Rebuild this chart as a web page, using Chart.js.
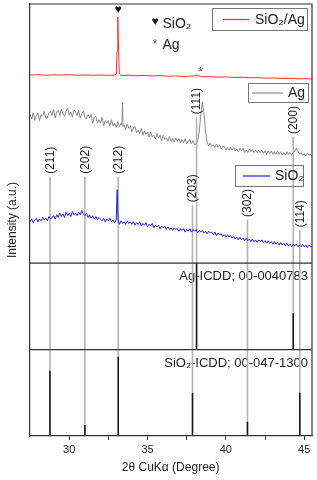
<!DOCTYPE html>
<html>
<head>
<meta charset="utf-8">
<script src="https://cdn.jsdelivr.net/npm/chart.js@4.4.1/dist/chart.umd.min.js"></script>
<style>
html,body{margin:0;padding:0;background:#fff;}
canvas{display:block;}
</style>
</head>
<body>
<canvas id="c" width="317" height="480" style="width:317px;height:480px"></canvas>
<script>
// ---------- DATA ----------
// x axis (2θ, degree)
const xMin = 27.45, xMax = 45.5;
const xTicks = [30, 32.5, 35, 37.5, 40, 42.5, 45];

// Spectra: [2θ, intensity (a.u., stacked offsets)]
const seriesNames = ['SiO₂/Ag', 'Ag', 'SiO₂'];
const sio2AgSpectrum = [
  [27.5,4.178],[28.0,4.182],[28.5,4.176],[29.0,4.180],[29.5,4.177],[30.0,4.181],[30.5,4.176],[31.0,4.179],
  [31.5,4.175],[32.0,4.178],[32.5,4.174],[32.9,4.177],[33.0,4.19],[33.05,4.45],[33.1,4.85],[33.15,4.45],
  [33.2,4.19],[33.3,4.172],[33.8,4.175],[34.3,4.170],[34.8,4.173],[35.3,4.168],[35.8,4.170],[36.3,4.165],
  [36.8,4.167],[37.3,4.162],[37.8,4.164],[38.0,4.168],[38.15,4.178],[38.3,4.166],[38.6,4.158],[39.1,4.158],
  [39.6,4.154],[40.1,4.156],[40.6,4.150],[41.1,4.152],[41.6,4.146],[42.1,4.147],[42.6,4.142],[43.1,4.143],
  [43.6,4.138],[44.1,4.140],[44.6,4.134],[45.1,4.135],[45.5,4.132]
];
const agSpectrum = [
  [27.5,3.72],[27.6,3.67],[27.7,3.74],[27.8,3.65],[27.9,3.71],[28.0,3.74],[28.1,3.65],[28.2,3.72],
  [28.3,3.70],[28.4,3.76],[28.5,3.68],[28.6,3.68],[28.7,3.74],[28.8,3.76],[28.9,3.71],[29.0,3.78],
  [29.1,3.68],[29.2,3.75],[29.3,3.77],[29.4,3.71],[29.5,3.78],[29.6,3.73],[29.7,3.70],[29.8,3.76],
  [29.9,3.79],[30.0,3.71],[30.1,3.75],[30.2,3.69],[30.3,3.77],[30.4,3.76],[30.5,3.71],[30.6,3.77],
  [30.7,3.68],[30.8,3.73],[30.9,3.76],[31.0,3.69],[31.1,3.67],[31.2,3.72],[31.3,3.68],[31.4,3.72],
  [31.5,3.62],[31.6,3.69],[31.7,3.70],[31.8,3.62],[31.9,3.66],[32.0,3.62],[32.1,3.69],[32.2,3.59],
  [32.3,3.65],[32.4,3.62],[32.5,3.65],[32.6,3.59],[32.7,3.66],[32.8,3.59],[32.9,3.62],[33.0,3.57],
  [33.1,3.64],[33.2,3.58],[33.3,3.62],[33.36,3.60],[33.4,3.86],[33.44,3.58],[33.5,3.60],[33.6,3.55],
  [33.7,3.61],[33.8,3.56],[33.9,3.59],[34.0,3.52],[34.1,3.57],[34.2,3.58],[34.3,3.51],[34.4,3.54],
  [34.5,3.50],[34.6,3.56],[34.7,3.48],[34.8,3.53],[34.9,3.49],[35.0,3.52],[35.1,3.46],[35.2,3.52],
  [35.3,3.46],[35.4,3.48],[35.5,3.44],[35.6,3.50],[35.7,3.45],[35.8,3.48],[35.9,3.42],[36.0,3.48],
  [36.1,3.43],[36.2,3.45],[36.3,3.41],[36.4,3.47],[36.5,3.41],[36.6,3.45],[36.7,3.40],[36.8,3.45],
  [36.9,3.41],[37.0,3.44],[37.1,3.39],[37.2,3.43],[37.3,3.39],[37.4,3.44],[37.5,3.38],[37.6,3.41],
  [37.7,3.43],[37.8,3.38],[37.9,3.42],[38.0,3.37],[38.1,3.38],[38.2,3.42],[38.3,3.52],[38.4,3.72],
  [38.5,3.87],[38.6,3.74],[38.7,3.52],[38.8,3.41],[38.9,3.36],[39.0,3.39],[39.1,3.35],[39.2,3.37],
  [39.3,3.34],[39.4,3.38],[39.5,3.34],[39.6,3.37],[39.7,3.32],[39.8,3.35],[39.9,3.35],[40.0,3.31],
  [40.1,3.34],[40.2,3.31],[40.3,3.34],[40.4,3.31],[40.5,3.34],[40.6,3.30],[40.7,3.32],[40.8,3.29],
  [40.9,3.33],[41.0,3.30],[41.1,3.33],[41.2,3.28],[41.3,3.31],[41.4,3.28],[41.5,3.32],[41.6,3.29],
  [41.7,3.32],[41.8,3.28],[41.9,3.31],[42.0,3.28],[42.1,3.31],[42.2,3.28],[42.3,3.31],[42.4,3.27],
  [42.5,3.30],[42.6,3.26],[42.7,3.30],[42.8,3.27],[42.9,3.30],[43.0,3.26],[43.1,3.29],[43.2,3.26],
  [43.3,3.30],[43.4,3.26],[43.5,3.29],[43.6,3.25],[43.7,3.28],[43.8,3.25],[43.9,3.29],[44.0,3.26],
  [44.1,3.28],[44.2,3.25],[44.3,3.28],[44.4,3.30],[44.5,3.33],[44.6,3.30],[44.7,3.26],[44.8,3.28],
  [44.9,3.25],[45.0,3.27],[45.1,3.24],[45.2,3.27],[45.3,3.25],[45.4,3.26],[45.5,3.24]
];
const sio2Spectrum = [
  [27.5,2.48],[27.6,2.51],[27.7,2.47],[27.8,2.50],[27.9,2.52],[28.0,2.48],[28.1,2.51],[28.2,2.49],
  [28.3,2.53],[28.4,2.50],[28.5,2.52],[28.6,2.49],[28.7,2.54],[28.8,2.51],[28.9,2.53],[29.0,2.55],
  [29.1,2.51],[29.2,2.56],[29.3,2.53],[29.4,2.58],[29.5,2.54],[29.6,2.57],[29.7,2.53],[29.8,2.59],
  [29.9,2.55],[30.0,2.58],[30.1,2.54],[30.2,2.60],[30.3,2.56],[30.4,2.58],[30.5,2.55],[30.6,2.59],
  [30.7,2.56],[30.8,2.61],[30.9,2.57],[31.0,2.55],[31.1,2.58],[31.2,2.53],[31.3,2.56],[31.4,2.52],
  [31.5,2.55],[31.6,2.51],[31.7,2.54],[31.8,2.50],[31.9,2.53],[32.0,2.51],[32.1,2.49],[32.2,2.52],
  [32.3,2.48],[32.4,2.51],[32.5,2.49],[32.6,2.52],[32.7,2.48],[32.8,2.50],[32.9,2.47],[33.0,2.50],
  [33.06,2.85],[33.12,2.50],[33.2,2.45],[33.3,2.49],[33.4,2.46],[33.5,2.48],[33.6,2.45],[33.7,2.49],
  [33.8,2.46],[33.9,2.48],[34.0,2.45],[34.1,2.48],[34.2,2.44],[34.3,2.47],[34.4,2.45],[34.5,2.48],
  [34.6,2.43],[34.7,2.46],[34.8,2.44],[34.9,2.47],[35.0,2.42],[35.1,2.45],[35.2,2.43],[35.3,2.46],
  [35.4,2.41],[35.5,2.44],[35.6,2.42],[35.7,2.44],[35.8,2.40],[35.9,2.43],[36.0,2.41],[36.1,2.43],
  [36.2,2.39],[36.3,2.42],[36.4,2.39],[36.5,2.41],[36.6,2.38],[36.7,2.41],[36.8,2.39],[36.9,2.40],
  [37.0,2.37],[37.1,2.40],[37.2,2.38],[37.3,2.40],[37.4,2.36],[37.5,2.39],[37.6,2.37],[37.7,2.40],
  [37.8,2.36],[37.9,2.39],[38.0,2.37],[38.1,2.39],[38.2,2.35],[38.3,2.38],[38.4,2.36],[38.5,2.38],
  [38.6,2.35],[38.7,2.37],[38.8,2.34],[38.9,2.37],[39.0,2.35],[39.1,2.36],[39.2,2.33],[39.3,2.36],
  [39.4,2.32],[39.5,2.35],[39.6,2.33],[39.7,2.34],[39.8,2.31],[39.9,2.33],[40.0,2.30],[40.1,2.33],
  [40.2,2.30],[40.3,2.32],[40.4,2.29],[40.5,2.31],[40.6,2.28],[40.7,2.30],[40.8,2.27],[40.9,2.30],
  [41.0,2.27],[41.1,2.29],[41.2,2.26],[41.3,2.29],[41.4,2.26],[41.5,2.28],[41.6,2.25],[41.7,2.28],
  [41.8,2.25],[41.9,2.27],[42.0,2.24],[42.1,2.27],[42.2,2.25],[42.3,2.27],[42.4,2.24],[42.5,2.26],
  [42.6,2.23],[42.7,2.26],[42.8,2.23],[42.9,2.25],[43.0,2.22],[43.1,2.25],[43.2,2.22],[43.3,2.24],
  [43.4,2.21],[43.5,2.24],[43.6,2.21],[43.7,2.23],[43.8,2.20],[43.9,2.23],[44.0,2.20],[44.1,2.22],
  [44.2,2.19],[44.3,2.22],[44.4,2.20],[44.5,2.22],[44.6,2.19],[44.7,2.21],[44.8,2.19],[44.9,2.22],
  [45.0,2.19],[45.1,2.21],[45.2,2.18],[45.3,2.21],[45.4,2.19],[45.5,2.20]
];

// Reference patterns
const sio2Pos  = [28.77, 31.0, 33.13, 37.87, 41.38, 44.72];
const sio2Hkl  = ['(211)', '(202)', '(212)', '(203)', '(302)', '(114)'];
const sio2Rel  = [0.756, 0.127, 0.918, 0.50, 0.166, 0.50];
const sio2Top  = [3.0, 3.0, 3.0, 2.67, 2.5, 2.38];   // where the guide line starts
const agPos    = [38.13, 44.3];
const agHkl    = ['(111)', '(200)'];
const agRel    = [1.0, 0.42];
const agTop    = [3.69, 3.46];
const panelBase = { sio2: 0, ag: 1, spectra: 2 };
const panelTexts = ['Ag-ICDD; 00-0040783', 'SiO₂-ICDD; 00-047-1300'];
const markers = [{ t: '♥', x: 33.12, y: 4.93 }, { t: '*', x: 38.39, y: 4.24 }];

// ---------- BUILD ----------
const FONT = '"Liberation Sans", Arial, Helvetica, sans-serif';
Chart.defaults.font.family = FONT;
Chart.defaults.color = '#222';

const toXY = arr => arr.map(p => ({ x: p[0], y: p[1] }));
function sticks(pos, base, rel) {
  const out = [];
  pos.forEach((p, i) => { out.push({ x: p, y: base }, { x: p, y: base + rel[i] }, { x: p, y: null }); });
  return out;
}
function guides() {
  const out = [];
  sio2Pos.forEach((p, i) => out.push({ x: p, y: sio2Top[i] }, { x: p, y: panelBase.sio2 }, { x: p, y: null }));
  agPos.forEach((p, i) => out.push({ x: p, y: agTop[i] }, { x: p, y: panelBase.ag }, { x: p, y: null }));
  return out;
}
const dividers = [{ x: xMin, y: 1 }, { x: xMax, y: 1 }, { x: xMax, y: null }, { x: xMin, y: 2 }, { x: xMax, y: 2 }];

const colors = ['#ff3030', '#8a8a8a', '#1f1fe6'];
const base = { pointRadius: 0, borderWidth: 1, tension: 0, fill: false, spanGaps: false };

const overlay = {
  id: 'overlay',
  beforeDatasetsDraw(chart) {
    const { ctx, chartArea, scales: { x, y } } = chart;
    ctx.save();
    ctx.fillStyle = '#222';
    ctx.font = '13px ' + FONT;
    ctx.textAlign = 'right';
    ctx.textBaseline = 'middle';
    ctx.fillText(panelTexts[0], chartArea.right - 4, y.getPixelForValue(1.85));
    ctx.fillText(panelTexts[1], chartArea.right - 4, y.getPixelForValue(0.845));
    ctx.restore();
  },
  afterDatasetsDraw(chart) {
    const { ctx, chartArea, scales: { x, y } } = chart;
    ctx.save();
    ctx.fillStyle = '#222';
    ctx.font = '12px ' + FONT;
    ctx.textAlign = 'left';
    ctx.textBaseline = 'middle';
    const lab = (p, top, t) => {
      ctx.save();
      ctx.translate(x.getPixelForValue(p) + 0.5, y.getPixelForValue(top) - 3);
      ctx.rotate(-Math.PI / 2);
      ctx.fillText(t, 0, 0);
      ctx.restore();
    };
    sio2Pos.forEach((p, i) => lab(p, sio2Top[i], sio2Hkl[i]));
    agPos.forEach((p, i) => lab(p, agTop[i], agHkl[i]));

    // peak markers
    ctx.textAlign = 'center';
    ctx.font = '12px ' + FONT;
    ctx.fillStyle = '#111';
    ctx.fillText(markers[0].t, x.getPixelForValue(markers[0].x), y.getPixelForValue(markers[0].y));
    ctx.fillStyle = '#555';
    ctx.fillText(markers[1].t, x.getPixelForValue(markers[1].x), y.getPixelForValue(markers[1].y) + 3);

    // symbol legend
    ctx.textAlign = 'center';
    ctx.fillStyle = '#111';
    ctx.fillText('♥', 155, 22);
    ctx.fillStyle = '#555';
    ctx.fillText('*', 155, 45);
    ctx.textAlign = 'left';
    ctx.fillStyle = '#222';
    ctx.font = '14px ' + FONT;
    ctx.fillText('SiO₂', 162.5, 24.5);
    ctx.fillText('Ag', 162.5, 45);

    // series legend boxes
    const boxes = [
      { x: 212, y: 8, w: 95, h: 22, l1: 223, l2: 249, tx: 255 },
      { x: 248, y: 83, w: 60, h: 19, l1: 252, l2: 283, tx: 288 },
      { x: 235, y: 165, w: 68, h: 21, l1: 243, l2: 270, tx: 275 }
    ];
    boxes.forEach((b, i) => {
      ctx.strokeStyle = '#777';
      ctx.lineWidth = 1;
      ctx.strokeRect(b.x + 0.5, b.y + 0.5, b.w, b.h);
      const cy = b.y + b.h / 2 + 0.5;
      ctx.beginPath();
      ctx.strokeStyle = chart.data.datasets[i].borderColor;
      ctx.lineWidth = 1.2;
      ctx.moveTo(b.l1, cy); ctx.lineTo(b.l2, cy);
      ctx.stroke();
      ctx.fillStyle = '#222';
      ctx.fillText(chart.data.datasets[i].label, b.tx, cy + 0.5);
    });
    ctx.restore();
  },
  afterDraw(chart) {
    const { ctx, chartArea } = chart;
    ctx.save();
    ctx.strokeStyle = '#333';
    ctx.lineWidth = 1.2;
    ctx.beginPath();
    ctx.moveTo(chartArea.left, chartArea.top);
    ctx.lineTo(chartArea.right, chartArea.top);
    ctx.lineTo(chartArea.right, chartArea.bottom);
    ctx.stroke();
    ctx.restore();
  }
};

new Chart(document.getElementById('c'), {
  type: 'line',
  data: {
    datasets: [
      { ...base, label: seriesNames[0], data: toXY(sio2AgSpectrum), borderColor: colors[0], order: 1 },
      { ...base, label: seriesNames[1], data: toXY(agSpectrum), borderColor: colors[1], order: 2 },
      { ...base, label: seriesNames[2], data: toXY(sio2Spectrum), borderColor: colors[2], order: 3 },
      { ...base, label: 'dividers', data: dividers, borderColor: '#333', borderWidth: 1.2, order: 4 },
      { ...base, label: 'Ag ICDD', data: sticks(agPos, panelBase.ag, agRel), borderColor: '#111', borderWidth: 1.5, order: 5 },
      { ...base, label: 'SiO2 ICDD', data: sticks(sio2Pos, panelBase.sio2, sio2Rel), borderColor: '#111', borderWidth: 1.5, order: 6 },
      { ...base, label: 'guides', data: guides(), borderColor: '#b4b4b4', borderWidth: 1.6, order: 10 }
    ]
  },
  options: {
    responsive: false,
    animation: false,
    devicePixelRatio: 1,
    layout: { padding: { top: 4, right: 5, left: 0, bottom: 0 } },
    plugins: { legend: { display: false }, tooltip: { enabled: false } },
    scales: {
      x: {
        type: 'linear', min: xMin, max: xMax,
        afterBuildTicks: s => { s.ticks = xTicks.map(v => ({ value: v })); },
        afterFit: s => { s.height = 44; },
        ticks: { autoSkip: false, maxRotation: 0, padding: 3, font: { size: 11 }, color: '#222',
                 callback: v => (v % 5 === 0 ? String(v) : '') },
        grid: { drawOnChartArea: false, drawTicks: true, tickLength: 4, color: '#333', lineWidth: 1 },
        border: { display: true, color: '#333', width: 1.2 },
        title: { display: true, text: '2θ CuKα (Degree)', font: { size: 12 }, color: '#222', padding: { top: 0, bottom: 5 } }
      },
      y: {
        min: 0, max: 5,
        afterFit: s => { s.width = 29.3; },
        ticks: { display: false },
        grid: { display: false, drawTicks: false },
        border: { display: true, color: '#333', width: 1.2 },
        title: { display: true, text: 'Intensity (a.u.)', font: { size: 12 }, color: '#222', padding: { top: 5, bottom: 0 } }
      }
    }
  },
  plugins: [overlay]
});
</script>
</body>
</html>
